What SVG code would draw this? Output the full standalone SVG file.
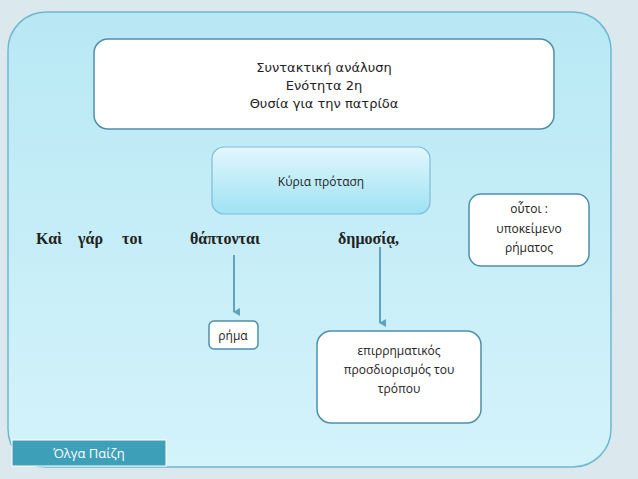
<svg xmlns="http://www.w3.org/2000/svg" width="638" height="479" viewBox="0 0 638 479">
<defs>
<linearGradient id="bg" x1="0" y1="0" x2="0" y2="1"><stop offset="0" stop-color="#b8e8f4"/><stop offset="1" stop-color="#d4f3fb"/></linearGradient>
<linearGradient id="kp" x1="0" y1="0" x2="0" y2="1"><stop offset="0" stop-color="#e2f7fd"/><stop offset="1" stop-color="#9fe2f4"/></linearGradient>
<marker id="ar" markerWidth="8" markerHeight="8" refX="4" refY="6" orient="auto" markerUnits="userSpaceOnUse"><path d="M0,0 L4,7 L8,0 Z" fill="#5fa3c0"/></marker>
</defs>
<style>
.box{fill:#fff;stroke:#4f8faa;stroke-width:1.5}
.s{font-family:"DejaVu Sans",sans-serif;font-size:13px;fill:#222;text-anchor:middle}
.c{font-family:"Open Sans","Noto Sans",sans-serif;font-size:12px;fill:#222;text-anchor:middle}
.g{font-family:"Liberation Serif",serif;font-size:16px;font-weight:bold;fill:#222}
.ln{stroke:#5fa3c0;stroke-width:2;fill:none}
</style>
<rect width="638" height="479" fill="#dbe9ee"/>
<rect x="8" y="12" width="603" height="455" rx="38" fill="url(#bg)" stroke="#6fb7cf" stroke-width="1.5"/>
<g id="title"><rect class="box" x="94" y="39" width="460" height="90" rx="14"/>
<text class="s" x="324" y="72">Συντακτική ανάλυση</text><text class="s" x="324" y="90">Ενότητα 2η</text><text class="s" x="324" y="108">Θυσία για την πατρίδα</text></g>
<g id="kyria"><rect x="212" y="147" width="218" height="67" rx="12" fill="url(#kp)" stroke="#7fbdd3" stroke-width="1.2"/><text class="c" x="321" y="186">Κύρια πρόταση</text></g>
<g id="sentence"><text class="g" x="36" y="244">Καὶ</text><text class="g" x="78" y="244">γάρ</text><text class="g" x="122" y="244">τοι</text><text class="g" x="190" y="244">θάπτονται</text><text class="g" x="338" y="244">δημοσίᾳ,</text></g>
<g id="outoi"><rect class="box" x="469" y="194" width="120" height="72" rx="12"/><text class="c" x="529" y="213">οὗτοι :</text><text class="c" x="529" y="233">υποκείμενο</text><text class="c" x="529" y="252">ρήματος</text></g>
<g id="rima"><rect class="box" x="209" y="321" width="49" height="28" rx="5"/><text class="c" x="233" y="340">ρήμα</text></g>
<g id="epir"><rect class="box" x="317" y="331" width="164" height="92" rx="14"/><text class="c" x="399" y="355">επιρρηματικός</text><text class="c" x="399" y="374">προσδιορισμός του</text><text class="c" x="399" y="393">τρόπου</text></g>
<g id="connectors"><line class="ln" x1="234" y1="255" x2="234" y2="312" marker-end="url(#ar)"/><line class="ln" x1="380" y1="247" x2="380" y2="323" marker-end="url(#ar)"/></g>
<g id="author"><rect x="12" y="440" width="154" height="26" fill="#3ea0b8" stroke="#fff" stroke-width="1"/><text x="89" y="458" font-family="Open Sans,Noto Sans,sans-serif" font-size="13" fill="#fff" text-anchor="middle">Όλγα Παίζη</text></g>
</svg>
